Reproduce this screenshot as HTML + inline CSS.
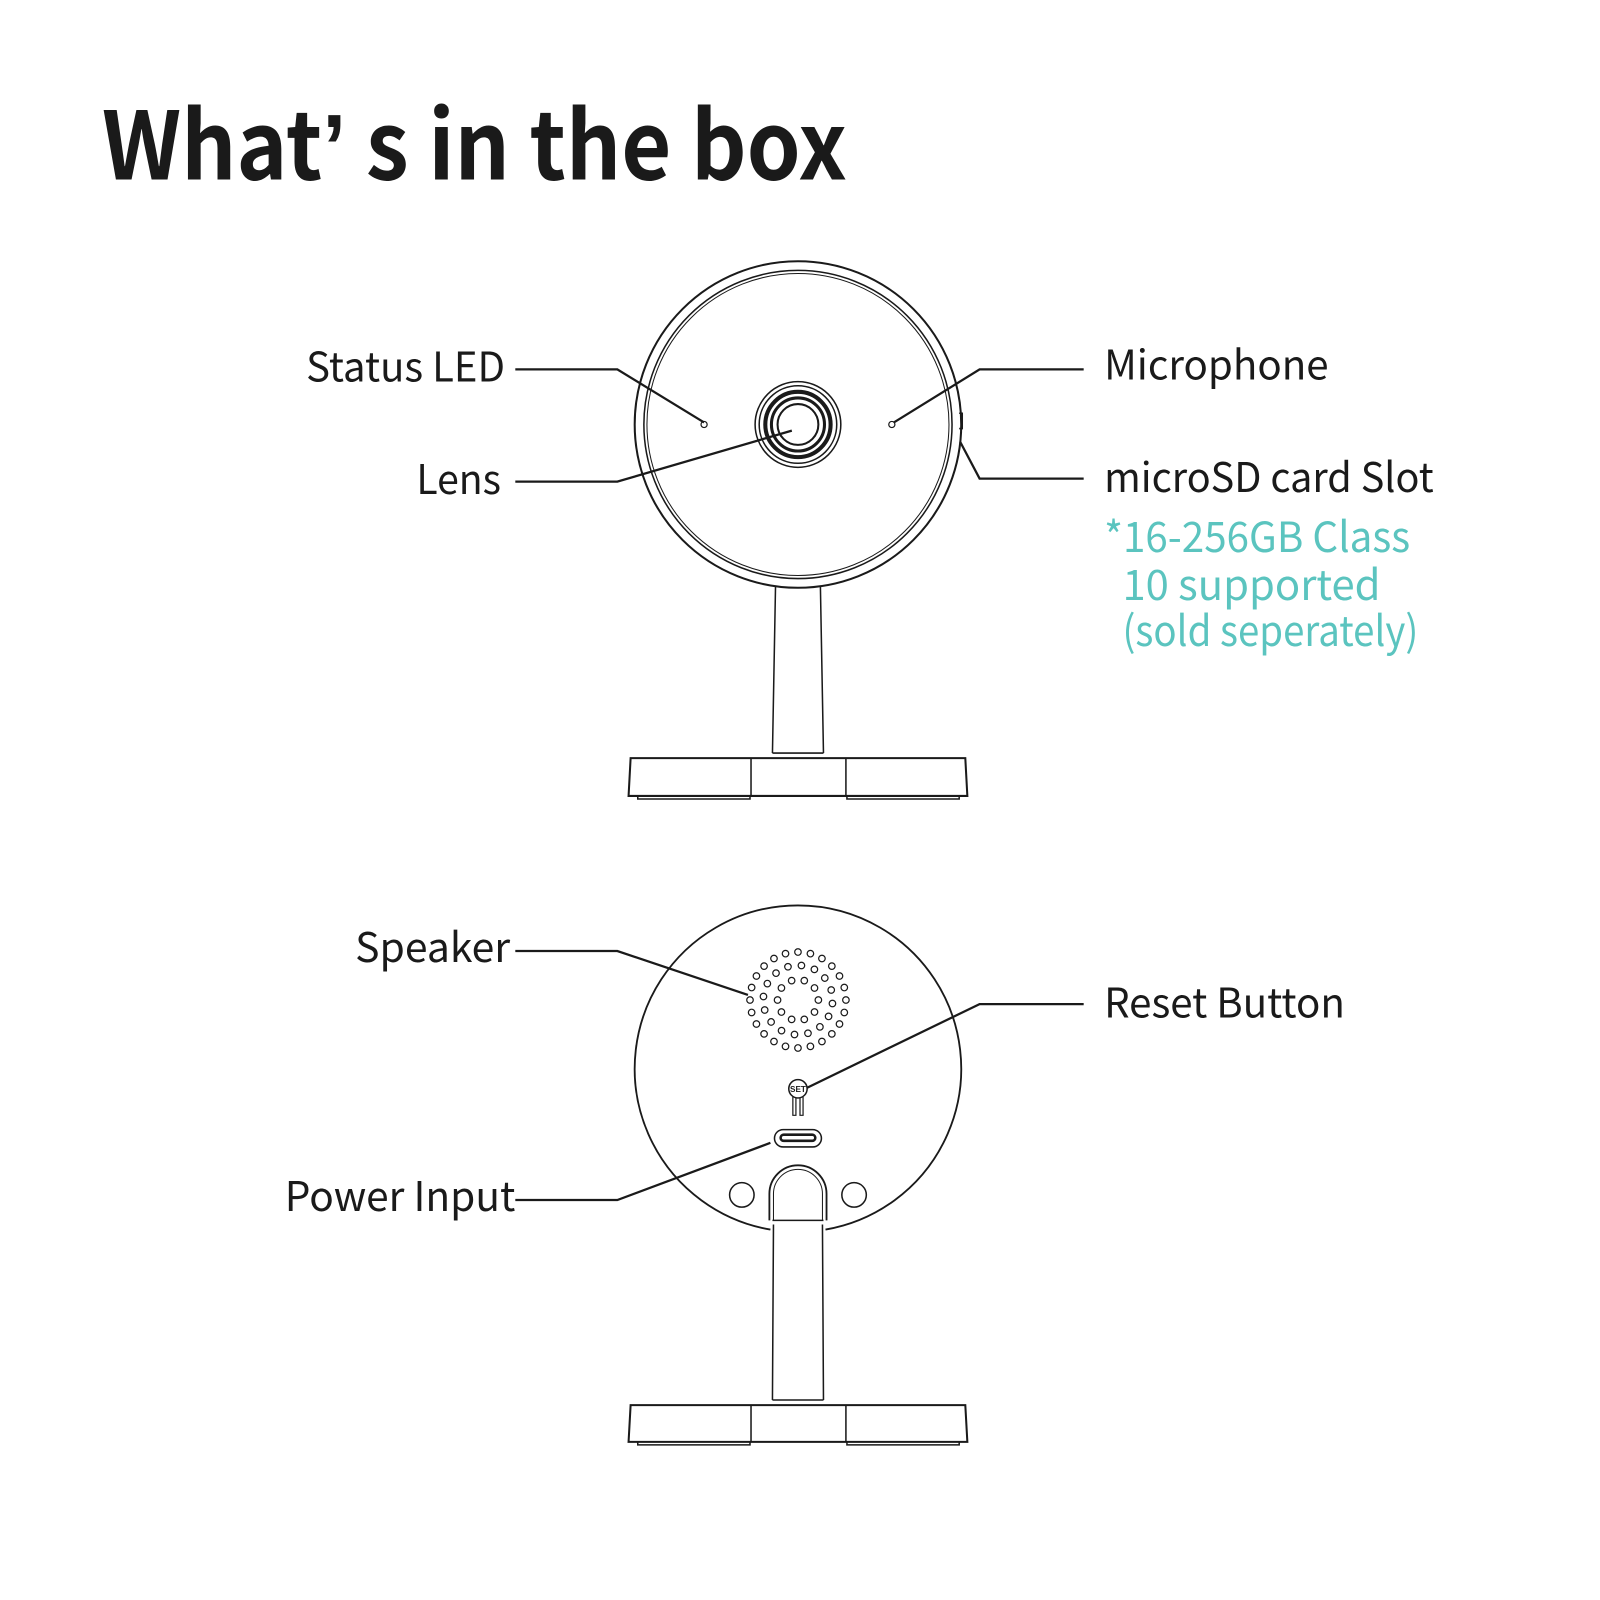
<!DOCTYPE html>
<html><head><meta charset="utf-8"><style>
html,body{margin:0;padding:0;background:#fff;}
svg{display:block;}
text{font-family:"Noto Sans CJK SC","Liberation Sans",sans-serif;}
</style></head><body>
<svg id="s" width="1600" height="1600" viewBox="0 0 1568 1568" xmlns="http://www.w3.org/2000/svg">
<rect width="1568" height="1568" fill="#fff"/>
<text x="100" y="176" font-size="92" font-weight="700" fill="#1a1a1a" textLength="730" lengthAdjust="spacingAndGlyphs">What<tspan style="font-family:'Liberation Sans',sans-serif">’</tspan> s in the box</text>

<g fill="none" stroke="#1a1a1a" stroke-width="2">
<circle cx="782" cy="416" r="160"/>
<circle cx="782" cy="416" r="151" stroke-width="1.5"/>
<circle cx="782" cy="416" r="148" stroke-width="1"/>
<circle cx="782" cy="416" r="42" stroke-width="1.5"/>
<circle cx="782" cy="416" r="38" stroke-width="1.5"/>
<circle cx="782" cy="416" r="32" stroke-width="4"/>
<circle cx="782" cy="416" r="26" stroke-width="3"/>
<circle cx="782" cy="416" r="20" stroke-width="2"/>
<circle cx="690" cy="416" r="3" stroke-width="1.2"/>
<circle cx="874" cy="416" r="3" stroke-width="1.2"/>
<path d="M940 405 L943 405 L943 420 L940 420" stroke-width="1.5"/>
<path d="M760 575 L757 738 M804 575 L807 738" stroke-width="1.5"/>
<path d="M757 738 L807 738" stroke-width="1.5"/>
<path d="M618 743 L946 743 L948 780 L616 780 Z" stroke-width="2"/>
<path d="M736 743 V780 M829 743 V780" stroke-width="1.5"/>
<path d="M625 780 V783 H735 V780 M830 780 V783 H940 V780" stroke-width="1.5"/>

<path d="M755 1205 A160 160 0 1 1 809 1205" stroke-width="1.8"/>
<circle cx="782" cy="1067" r="9" stroke-width="1.5"/>
<path d="M777 1075 V1093 H780 V1076 M787 1075 V1093 H784 V1076" stroke-width="1.2"/>
<rect x="759" y="1107" width="46" height="17" rx="8.5" stroke-width="1.5"/>
<rect x="765" y="1112" width="34" height="6" rx="3" stroke-width="2.5"/>
<circle cx="727" cy="1171" r="12" stroke-width="1.5"/>
<circle cx="837" cy="1171" r="12" stroke-width="1.5"/>
<path d="M754 1196 V1170 A28 28 0 0 1 810 1170 V1196" stroke-width="1.8"/>
<path d="M758 1196 V1170 A24 24 0 0 1 806 1170 V1196" stroke-width="1"/>
<path d="M758 1200 L757 1372 M806 1200 L807 1372 M757 1196 H807" stroke-width="1.5"/>
<path d="M757 1372 L807 1372" stroke-width="1.5"/>
<path d="M618 1377 L946 1377 L948 1413 L616 1413 Z" stroke-width="2"/>
<path d="M736 1377 V1413 M829 1377 V1413" stroke-width="1.5"/>
<path d="M625 1413 V1416 H735 V1413 M830 1413 V1416 H940 V1413" stroke-width="1.5"/>
<g id="holes" stroke-width="1.2"></g>

<g stroke-width="2.2">
<polyline points="505,362 605,362 690,414"/>
<polyline points="505,472 605,472 776,422"/>
<polyline points="1062,362 960,362 876,414"/>
<polyline points="1062,469 960,469 941,433"/>
<polyline points="505,932 605,932 733,975"/>
<polyline points="1062,984 960,984 791,1066"/>
<polyline points="505,1176 605,1176 755,1120"/>
</g>
</g>
<text x="782" y="1070" font-size="8" font-weight="700" fill="#1a1a1a" text-anchor="middle" style="font-family:'Liberation Sans',sans-serif">SET</text>

<g font-size="40" fill="#1a1a1a">
<text x="300" y="374" textLength="195" lengthAdjust="spacingAndGlyphs">Status LED</text>
<text x="408" y="484" textLength="83" lengthAdjust="spacingAndGlyphs">Lens</text>
<text x="1082" y="372" textLength="220" lengthAdjust="spacingAndGlyphs">Microphone</text>
<text x="1082" y="482" textLength="323" lengthAdjust="spacingAndGlyphs">microSD card Slot</text>
<text x="348" y="943" textLength="152" lengthAdjust="spacingAndGlyphs">Speaker</text>
<text x="1082" y="997" textLength="236" lengthAdjust="spacingAndGlyphs">Reset Button</text>
<text x="279" y="1187" textLength="226" lengthAdjust="spacingAndGlyphs">Power Input</text>
</g>
<g font-size="41" fill="#5bc4bf">
<text x="1082" y="541" textLength="300" lengthAdjust="spacingAndGlyphs">*16-256GB Class</text>
<text x="1100" y="588" textLength="253" lengthAdjust="spacingAndGlyphs">10 supported</text>
<text x="1100" y="633" textLength="290" lengthAdjust="spacingAndGlyphs">(sold seperately)</text>
</g>
</svg>
<script>
var g=document.getElementById('holes'),ns='http://www.w3.org/2000/svg';
[[20,10,0],[34,16,0.1],[47,24,0]].forEach(function(r){
for(var i=0;i<r[1];i++){var a=2*Math.PI*i/r[1]+r[2];
var c=document.createElementNS(ns,'circle');
c.setAttribute('cx',(782+r[0]*Math.cos(a)).toFixed(1));
c.setAttribute('cy',(980+r[0]*Math.sin(a)).toFixed(1));
c.setAttribute('r','3.2');g.appendChild(c);}});
</script>
</body></html>
